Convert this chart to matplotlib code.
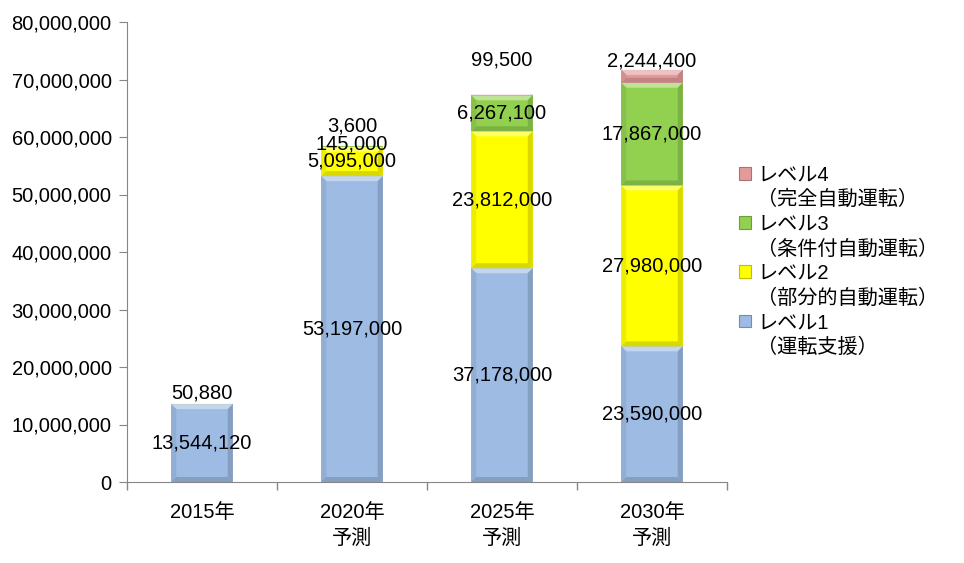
import matplotlib.pyplot as plt
from matplotlib.patches import Patch, Polygon
from matplotlib.ticker import FuncFormatter, FixedLocator
import matplotlib.colors as mcolors

years = ['2015年', '2020年\n予測', '2025年\n予測', '2030年\n予測']
lv1 = [13544120, 53197000, 37178000, 23590000]
lv2 = [50880, 5095000, 23812000, 27980000]
lv3 = [0, 145000, 6267100, 17867000]
lv4 = [0, 3600, 99500, 2244400]
level_names = ['レベル1', 'レベル2', 'レベル3', 'レベル4']
level_desc = ['（運転支援）', '（部分的自動運転）', '（条件付自動運転）', '（完全自動運転）']

colors = ['#9dbbe3', '#ffff00', '#92d050', '#e39a9a']
plt.rcParams['font.family'] = ['Liberation Sans', 'Noto Sans CJK JP', 'DejaVu Sans']
fs = 14.5

fig = plt.figure(figsize=(9.64, 5.63), dpi=100)
ax = fig.add_axes([127 / 964, 81 / 563, 600 / 964, 460 / 563])
ax.set_xlim(-0.5, 3.5)
ax.set_ylim(0, 80000000)

x = range(len(years))
w = 0.41
series = [lv1, lv2, lv3, lv4]
bottoms = [0] * len(years)
bar_sets = []
for vals, c in zip(series, colors):
    bars = ax.bar(x, vals, w, bottom=bottoms, color=c, edgecolor='none', zorder=2)
    bar_sets.append((bars, vals, list(bottoms)))
    bottoms = [b + v for b, v in zip(bottoms, vals)]

# soft bevel on each segment
inv = ax.transData.inverted()
px_x = inv.transform((5, 0))[0] - inv.transform((0, 0))[0]
px_y = inv.transform((0, 5))[1] - inv.transform((0, 0))[1]
for (bars, vals, bots), c in zip(bar_sets, colors):
    base = mcolors.to_rgb(c)
    light = tuple(v * 0.6 + 0.4 for v in base)
    side = tuple(v * 0.93 for v in base)
    dark = tuple(v * 0.85 for v in base)
    for b in bars:
        if b.get_height() <= 0:
            continue
        x0, y0 = b.get_x(), b.get_y()
        x1, y1 = x0 + b.get_width(), y0 + b.get_height()
        d = min(px_y, b.get_height() / 2)
        dx = px_x
        ax.add_patch(Polygon([(x0, y1), (x1, y1), (x1 - dx, y1 - d), (x0 + dx, y1 - d)],
                             color=light, lw=0, zorder=3))
        ax.add_patch(Polygon([(x0, y0), (x0, y1), (x0 + dx, y1 - d), (x0 + dx, y0 + d)],
                             color=side, lw=0, zorder=3))
        ax.add_patch(Polygon([(x1, y0), (x1, y1), (x1 - dx, y1 - d), (x1 - dx, y0 + d)],
                             color=dark, lw=0, zorder=3))
        ax.add_patch(Polygon([(x0, y0), (x1, y0), (x1 - dx, y0 + d), (x0 + dx, y0 + d)],
                             color=dark, lw=0, zorder=3))

# data labels, with pixel nudges for the thin segments (level, bar): px
nudge = {(1, 0): 11, (2, 1): 2, (3, 1): 20, (3, 2): 35, (3, 3): 15}
for li, (bars, vals, bots) in enumerate(bar_sets):
    for i, (v, b0) in enumerate(zip(vals, bots)):
        if v <= 0:
            continue
        ax.annotate(f'{v:,}', (i, b0 + v / 2), xytext=(0, nudge.get((li, i), 0)),
                    textcoords='offset pixels', ha='center', va='center',
                    fontsize=fs, color='#000000', zorder=5)

ax.yaxis.set_major_formatter(FuncFormatter(lambda v, p: f'{int(v):,}'))
ax.set_yticks(range(0, 80000001, 10000000))
ax.set_xticks(list(x))
ax.set_xticklabels(years, fontsize=fs, linespacing=1.45)
ax.xaxis.set_minor_locator(FixedLocator([-0.5, 0.5, 1.5, 2.5, 3.5]))
ax.tick_params(axis='x', which='major', length=0, pad=15)
ax.tick_params(axis='x', which='minor', length=6, color='#868686', width=1)
ax.tick_params(axis='y', length=6, color='#868686', labelsize=fs, pad=5)
for s in ['top', 'right']:
    ax.spines[s].set_visible(False)
for s in ['left', 'bottom']:
    ax.spines[s].set_color('#868686')

handles = []
labels = []
for name, desc, c in list(zip(level_names, level_desc, colors))[::-1]:
    edge = tuple(v * 0.75 for v in mcolors.to_rgb(c))
    handles.append(Patch(facecolor=c, edgecolor=edge, lw=0.8))
    labels.append(name)
    handles.append(Patch(facecolor='none', edgecolor='none'))
    labels.append(desc)
fig.legend(handles, labels, loc='center left', bbox_to_anchor=(731 / 964, 1 - 261 / 563),
           frameon=False, fontsize=fs, handlelength=0.6, handleheight=0.6,
           handletextpad=0.3, labelspacing=0.27, borderaxespad=0)

fig.savefig('out.png', dpi=100)
